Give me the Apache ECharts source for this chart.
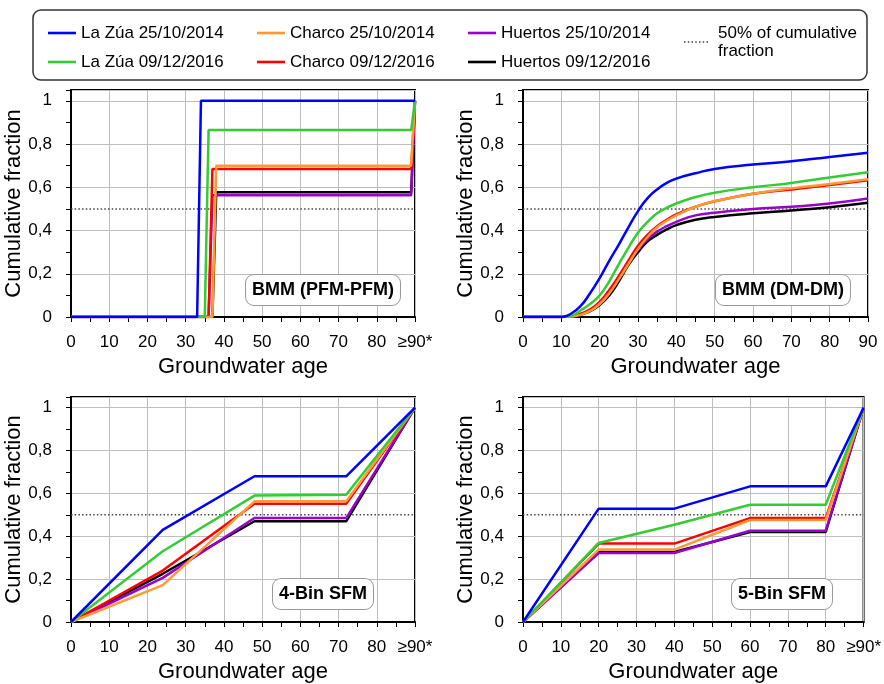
<!DOCTYPE html>
<html>
<head>
<meta charset="utf-8">
<script src="https://cdn.jsdelivr.net/npm/echarts@6/dist/echarts.min.js"></script>
<style>
  html, body { margin: 0; background: #fff; }
  #chart { width: 884px; height: 684px; }
</style>
</head>
<body>
<div id="chart"></div>
<script>
  var FONT = '"Liberation Sans", Arial, sans-serif';

  // series names / colours, drawn bottom -> top
  var names = ['Huertos 09/12/2016', 'Huertos 25/10/2014', 'Charco 09/12/2016',
               'Charco 25/10/2014', 'La Zúa 09/12/2016', 'La Zúa 25/10/2014'];
  var colors = ['#000000', '#9900cc', '#ff0000', '#ff9933', '#33cc33', '#0000ff'];
  var refName = '50% of cumulative fraction';
  var refLine = [[0, 0.5], [90, 0.5]];

  // tick labels
  var yTickLabels = ['0', '0,2', '0,4', '0,6', '0,8', '1'];
  var xTickLabelsAge = ['0', '10', '20', '30', '40', '50', '60', '70', '80', '≥90*'];
  var xTickLabelsDM = ['0', '10', '20', '30', '40', '50', '60', '70', '80', '90'];

  // BMM (PFM-PFM)  [age, fraction]
  var pfmHuertos16 = [[0, 0], [37, 0], [38, 0.577], [89, 0.577], [90, 1]];
  var pfmHuertos14 = [[0, 0], [36, 0], [37, 0.563], [89, 0.563], [90, 1]];
  var pfmCharco16 = [[0, 0], [36, 0], [37, 0.685], [89, 0.685], [90, 1]];
  var pfmCharco14 = [[0, 0], [37, 0], [38, 0.70], [89, 0.70], [90, 1]];
  var pfmZua16 = [[0, 0], [35, 0], [36, 0.865], [89, 0.865], [90, 1]];
  var pfmZua14 = [[0, 0], [33, 0], [34, 1], [90, 1]];

  // BMM (DM-DM)
  var dmAge = [0, 5, 10, 12.5, 15, 17.5, 20, 22.5, 25, 27.5, 30, 32.5, 35, 37.5, 40, 45, 50, 60, 70, 80, 90];
  var dmHuertos16 = [0, 0, 0, 0.002, 0.01, 0.027, 0.055, 0.10, 0.165, 0.24, 0.30, 0.35, 0.38, 0.405, 0.425, 0.45, 0.463, 0.48, 0.493, 0.508, 0.528];
  var dmHuertos14 = [0, 0, 0, 0.002, 0.012, 0.03, 0.06, 0.11, 0.175, 0.25, 0.31, 0.36, 0.395, 0.42, 0.44, 0.47, 0.482, 0.50, 0.51, 0.525, 0.548];
  var dmCharco16 = [0, 0, 0, 0.003, 0.015, 0.035, 0.07, 0.125, 0.19, 0.26, 0.33, 0.38, 0.42, 0.45, 0.475, 0.51, 0.535, 0.57, 0.59, 0.61, 0.632];
  var dmCharco14 = [0, 0, 0, 0.002, 0.01, 0.028, 0.06, 0.11, 0.175, 0.245, 0.315, 0.37, 0.415, 0.445, 0.47, 0.51, 0.535, 0.57, 0.595, 0.615, 0.637];
  var dmZua16 = [0, 0, 0, 0.005, 0.03, 0.06, 0.10, 0.165, 0.245, 0.32, 0.39, 0.44, 0.48, 0.505, 0.525, 0.555, 0.575, 0.60, 0.62, 0.645, 0.67];
  var dmZua14 = [0, 0, 0, 0.015, 0.05, 0.11, 0.18, 0.26, 0.335, 0.415, 0.49, 0.55, 0.59, 0.62, 0.64, 0.665, 0.685, 0.705, 0.72, 0.74, 0.76];

  // 4-Bin SFM
  var bin4Age = [0, 24, 48, 72, 90];
  var bin4Huertos16 = [0, 0.225, 0.47, 0.47, 1];
  var bin4Huertos14 = [0, 0.206, 0.485, 0.485, 1];
  var bin4Charco16 = [0, 0.24, 0.552, 0.552, 1];
  var bin4Charco14 = [0, 0.172, 0.563, 0.563, 1];
  var bin4Zua16 = [0, 0.33, 0.59, 0.594, 1];
  var bin4Zua14 = [0, 0.43, 0.68, 0.68, 1];

  // 5-Bin SFM
  var bin5Age = [0, 20, 40, 60, 80, 90];
  var bin5Huertos16 = [0, 0.327, 0.327, 0.42, 0.42, 1];
  var bin5Huertos14 = [0, 0.322, 0.322, 0.426, 0.426, 1];
  var bin5Charco16 = [0, 0.366, 0.366, 0.485, 0.485, 1];
  var bin5Charco14 = [0, 0.338, 0.338, 0.476, 0.476, 1];
  var bin5Zua16 = [0, 0.369, 0.454, 0.547, 0.547, 1];
  var bin5Zua14 = [0, 0.529, 0.529, 0.633, 0.633, 1];

  function zip(xs, ys) {
    return xs.map(function (x, i) { return [x, ys[i]]; });
  }

  var panels = [
    { label: 'BMM (PFM-PFM)', xLabels: xTickLabelsAge, smooth: false,
      data: [pfmHuertos16, pfmHuertos14, pfmCharco16, pfmCharco14, pfmZua16, pfmZua14] },
    { label: 'BMM (DM-DM)', xLabels: xTickLabelsDM, smooth: true,
      data: [dmHuertos16, dmHuertos14, dmCharco16, dmCharco14, dmZua16, dmZua14].map(function (d) { return zip(dmAge, d); }) },
    { label: '4-Bin SFM', xLabels: xTickLabelsAge, smooth: false,
      data: [bin4Huertos16, bin4Huertos14, bin4Charco16, bin4Charco14, bin4Zua16, bin4Zua14].map(function (d) { return zip(bin4Age, d); }) },
    { label: '5-Bin SFM', xLabels: xTickLabelsAge, smooth: false,
      data: [bin5Huertos16, bin5Huertos14, bin5Charco16, bin5Charco14, bin5Zua16, bin5Zua14].map(function (d) { return zip(bin5Age, d); }) }
  ];

  var gridPos = [
    { left: 71, top: 90, width: 344, height: 227 },
    { left: 523, top: 90, width: 345, height: 227 },
    { left: 71, top: 397, width: 344, height: 226 },
    { left: 523, top: 397, width: 345, height: 226 }
  ];
  var labelPos = [[323, 290], [783, 290], [323, 594], [782, 594]];

  var grids = [], xAxes = [], yAxes = [], series = [], graphics = [];

  panels.forEach(function (p, gi) {
    grids.push(Object.assign({ show: true, borderColor: '#000', borderWidth: 2, backgroundColor: '#fff' }, gridPos[gi]));
    xAxes.push({
      gridIndex: gi, type: 'value', min: 0, max: 90, interval: 10,
      name: 'Groundwater age', nameLocation: 'middle', nameGap: 39,
      nameTextStyle: { fontSize: 22, color: '#000', fontFamily: FONT },
      axisLine: { lineStyle: { color: '#000', width: 2 } },
      axisTick: { length: 5, lineStyle: { color: '#000', width: 1 } },
      minorTick: { show: true, splitNumber: 2, length: 5, lineStyle: { color: '#000', width: 1 } },
      axisLabel: {
        margin: 17, fontSize: 17, color: '#000', fontFamily: FONT,
        formatter: function (v) { return p.xLabels[Math.round(v / 10)]; }
      },
      splitLine: { show: true, lineStyle: { color: '#bdbdbd', width: 1 } }
    });
    yAxes.push({
      gridIndex: gi, type: 'value', min: 0, max: 1.05, interval: 0.2,
      name: 'Cumulative fraction', nameLocation: 'middle', nameGap: 33, nameRotate: 90,
      nameTextStyle: { fontSize: 22, color: '#000', fontFamily: FONT },
      axisLine: { show: true, lineStyle: { color: '#000', width: 2 } },
      axisTick: { show: true, length: 5, lineStyle: { color: '#000', width: 1 } },
      minorTick: { show: true, splitNumber: 2, length: 5, lineStyle: { color: '#000', width: 1 } },
      axisLabel: {
        margin: 19, fontSize: 17, color: '#000', fontFamily: FONT,
        formatter: function (v) {
          var k = Math.round(v / 0.2);
          return Math.abs(k * 0.2 - v) < 1e-6 ? yTickLabels[k] : '';
        }
      },
      splitLine: { show: true, lineStyle: { color: '#bdbdbd', width: 1 } }
    });
    series.push({
      name: refName, type: 'line', xAxisIndex: gi, yAxisIndex: gi,
      data: refLine, symbol: 'none', silent: true, color: '#444',
      lineStyle: { color: '#444', width: 1.5, type: [1.5, 2.2] }
    });
    p.data.forEach(function (d, si) {
      series.push({
        name: names[si], type: 'line', xAxisIndex: gi, yAxisIndex: gi,
        data: d, symbol: 'none', showSymbol: false,
        smooth: p.smooth ? 0.5 : false,
        color: colors[si],
        lineStyle: { color: colors[si], width: 2.5 },
        z: 3 + si
      });
    });
    graphics.push({
      type: 'text', x: labelPos[gi][0], y: labelPos[gi][1], z: 100,
      style: {
        text: p.label, font: 'bold 18px ' + FONT, fill: '#000',
        align: 'center', verticalAlign: 'middle',
        textAlign: 'center', textVerticalAlign: 'middle',
        backgroundColor: '#fff', borderColor: '#999', borderWidth: 1,
        borderRadius: 8, padding: [6, 6]
      }
    });
  });

  graphics.push({
    type: 'rect', z: 100,
    shape: { x: 33, y: 10, width: 834, height: 70, r: 8 },
    style: { fill: 'none', stroke: '#333', lineWidth: 1.5 }
  });

  var lineIcon = 'path://M0,0H28V2.6H0Z';
  var dotIcon = 'path://M0,0h1.5v1.5h-1.5z M3.7,0h1.5v1.5h-1.5z M7.4,0h1.5v1.5h-1.5z M11.1,0h1.5v1.5h-1.5z ' +
                'M14.8,0h1.5v1.5h-1.5z M18.5,0h1.5v1.5h-1.5z M22.2,0h1.5v1.5h-1.5z';

  function legendCol(left, top, data, icon, extra) {
    return Object.assign({
      left: left, top: top, orient: 'vertical', itemWidth: 28, itemHeight: 14, itemGap: 9,
      selectedMode: false,
      data: data.map(function (n) { return { name: n, icon: icon }; }),
      textStyle: { fontSize: 17, lineHeight: 20, color: '#000', fontFamily: FONT }
    }, extra || {});
  }

  var chart = echarts.init(document.getElementById('chart'));
  chart.setOption({
    backgroundColor: '#fff',
    animation: false,
    legend: [
      legendCol(43, 18, ['La Zúa 25/10/2014', 'La Zúa 09/12/2016'], lineIcon),
      legendCol(252, 18, ['Charco 25/10/2014', 'Charco 09/12/2016'], lineIcon),
      legendCol(463, 18, ['Huertos 25/10/2014', 'Huertos 09/12/2016'], lineIcon),
      legendCol(679, 19, [refName], dotIcon, {
        itemWidth: 24,
        formatter: function () { return '50% of cumulative\nfraction'; },
        textStyle: { fontSize: 17, lineHeight: 18, color: '#000', fontFamily: FONT, padding: [0, 0, 0, 5] }
      })
    ],
    grid: grids,
    xAxis: xAxes,
    yAxis: yAxes,
    series: series,
    graphic: graphics
  });
</script>
</body>
</html>
